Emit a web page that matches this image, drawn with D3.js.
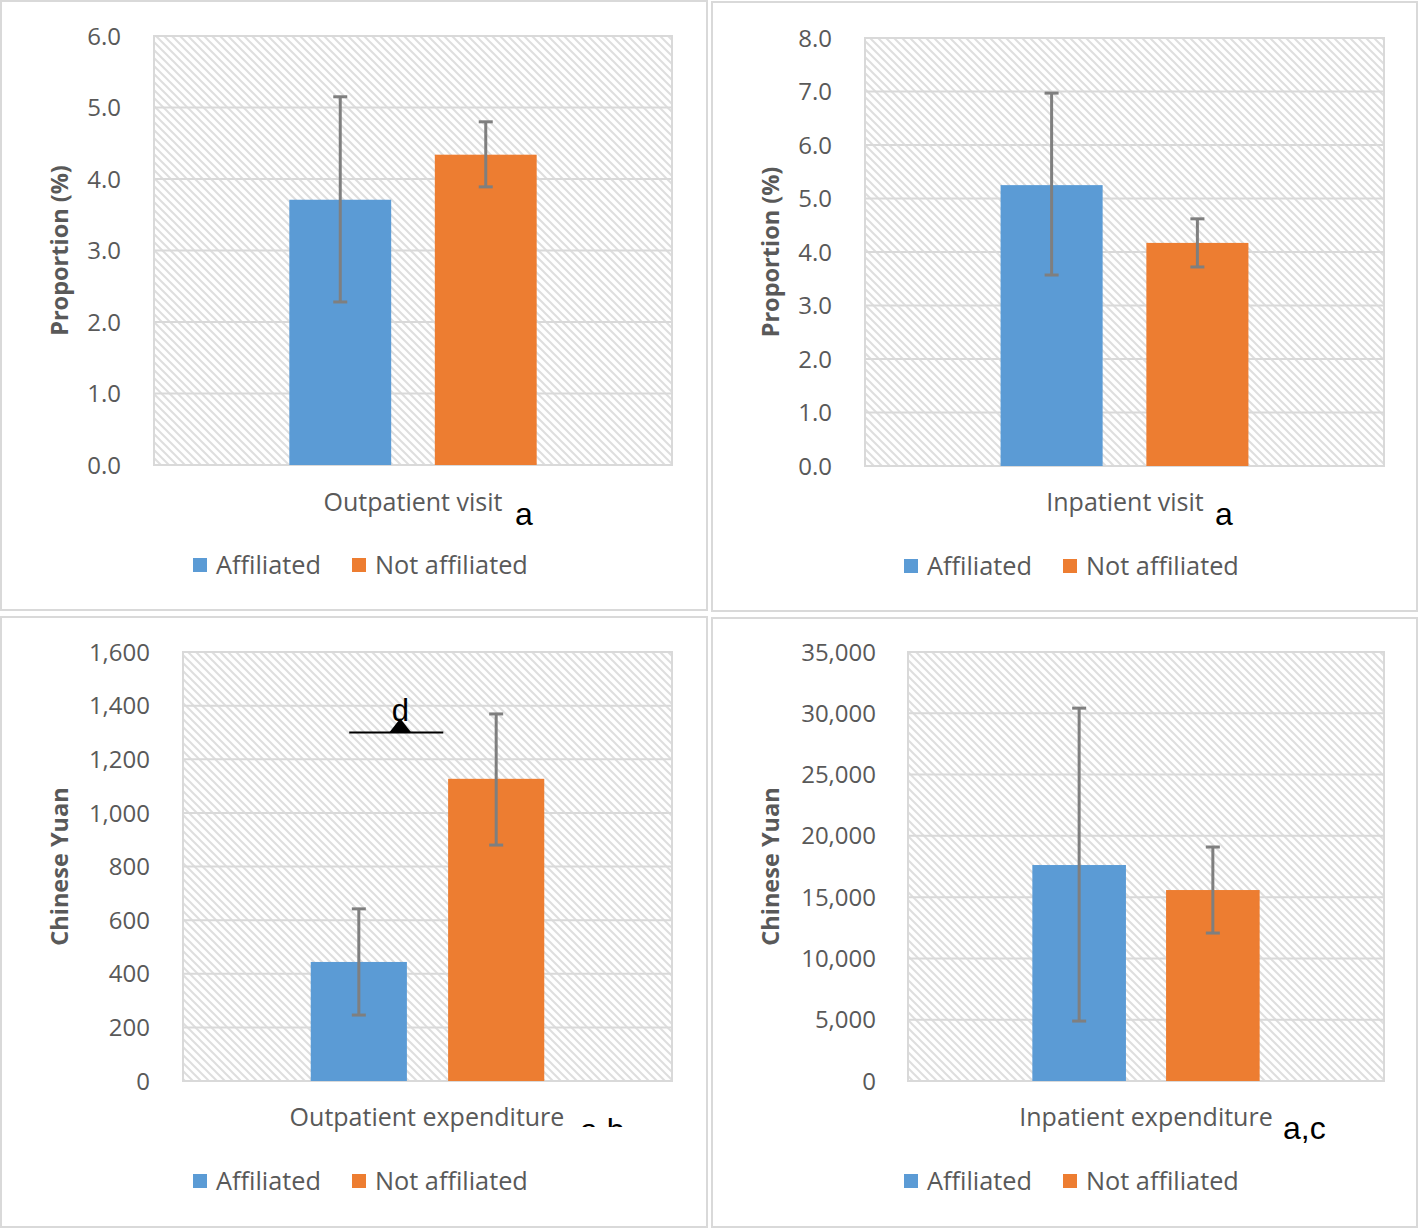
<!DOCTYPE html>
<html><head><meta charset="utf-8">
<script src="https://cdn.jsdelivr.net/npm/d3@7"></script>
<style>body{margin:0;background:#fff}svg{display:block}</style>
</head><body>
<script>
// ---------- data ----------
const groups = ["Affiliated", "Not affiliated"];
const colors = ["#5b9bd5", "#ed7d31"];

const outpatientVisit = [3.71, 4.34];
const outpatientVisitLow = [2.28, 3.89];
const outpatientVisitHigh = [5.15, 4.80];

const inpatientVisit = [5.25, 4.17];
const inpatientVisitLow = [3.57, 3.72];
const inpatientVisitHigh = [6.97, 4.62];

const outpatientExp = [444, 1127];
const outpatientExpLow = [246, 880];
const outpatientExpHigh = [642, 1369];

const inpatientExp = [17620, 15580];
const inpatientExpLow = [4890, 12070];
const inpatientExpHigh = [30420, 19090];

const visitTicksA = [0, 1, 2, 3, 4, 5, 6];
const visitTicksB = [0, 1, 2, 3, 4, 5, 6, 7, 8];
const outExpTicks = [0, 200, 400, 600, 800, 1000, 1200, 1400, 1600];
const inExpTicks = [0, 5000, 10000, 15000, 20000, 25000, 30000, 35000];

const titles = ["Outpatient visit", "Inpatient visit", "Outpatient expenditure", "Inpatient expenditure"];
const notes = ["a", "a", "a,b", "a,c"];
const yTitles = ["Proportion (%)", "Proportion (%)", "Chinese Yuan", "Chinese Yuan"];

// ---------- layout ----------
const W = 1420, H = 1229;
const svg = d3.select("body").append("svg").attr("width", W).attr("height", H);
const defs = svg.append("defs");
const pat = defs.append("pattern").attr("id", "hatch").attr("patternUnits", "userSpaceOnUse")
  .attr("width", 8).attr("height", 8);
pat.append("rect").attr("width", 8).attr("height", 8).attr("fill", "#fff");
pat.append("path").attr("d", "M-2,-2L10,10M-2,6L2,10M6,-2L10,2")
  .attr("stroke", "#dedede").attr("stroke-width", 2);

const FONT = "'Open Sans', sans-serif";
const GRAY = "#595959";

const panels = [
  {box:[1,1,707,610], plot:[154,36,672,465], vals:outpatientVisit, lo:outpatientVisitLow, hi:outpatientVisitHigh,
   ticks:visitTicksA, fmt:d3.format(".1f"), tickX:121, titleX:60, labelY:502, titleCx:413, noteX:515, noteY:525, legY:565, legX:[193,352]},
  {box:[712,2,1417,611], plot:[865,38,1384,466], vals:inpatientVisit, lo:inpatientVisitLow, hi:inpatientVisitHigh,
   ticks:visitTicksB, fmt:d3.format(".1f"), tickX:832, titleX:771, labelY:502, titleCx:1125, noteX:1215, noteY:525, legY:566, legX:[904,1063]},
  {box:[1,617,707,1227], plot:[183,652,672,1081], vals:outpatientExp, lo:outpatientExpLow, hi:outpatientExpHigh,
   ticks:outExpTicks, fmt:d3.format(","), tickX:150, titleX:60, labelY:1117, titleCx:427, noteX:580, noteY:1141, legY:1181, legX:[193,352], clipNote:1127},
  {box:[712,618,1417,1227], plot:[908,652,1384,1081], vals:inpatientExp, lo:inpatientExpLow, hi:inpatientExpHigh,
   ticks:inExpTicks, fmt:d3.format(","), tickX:876, titleX:771, labelY:1117, titleCx:1146, noteX:1283, noteY:1139, legY:1181, legX:[904,1063]}
];

panels.forEach((p, i) => {
  const g = svg.append("g");
  const [bx0, by0, bx1, by1] = p.box;
  g.append("rect").attr("x", bx0).attr("y", by0).attr("width", bx1 - bx0).attr("height", by1 - by0)
    .attr("fill", "#fff").attr("stroke", "#d9d9d9").attr("stroke-width", 2);
  const [L, T, R, B] = p.plot;
  const y = d3.scaleLinear().domain([p.ticks[0], p.ticks[p.ticks.length - 1]]).range([B, T]);
  const x = d3.scaleBand().domain(groups).range([L, R]).paddingInner(0.3).paddingOuter(0.93);

  g.append("rect").attr("x", L).attr("y", T).attr("width", R - L).attr("height", B - T)
    .attr("fill", "url(#hatch)");
  // gridlines
  g.append("g").selectAll("line").data(p.ticks).join("line")
    .attr("x1", L).attr("x2", R).attr("y1", d => y(d)).attr("y2", d => y(d))
    .attr("stroke", "#d9d9d9").attr("stroke-width", 2);
  g.append("rect").attr("x", L).attr("y", T).attr("width", R - L).attr("height", B - T)
    .attr("fill", "none").attr("stroke", "#d9d9d9").attr("stroke-width", 2);
  // tick labels
  g.append("g").selectAll("text").data(p.ticks).join("text")
    .attr("x", p.tickX).attr("y", d => y(d)).attr("dy", "0.36em").attr("text-anchor", "end")
    .attr("font-family", FONT).attr("font-size", 24).attr("fill", GRAY).text(d => p.fmt(d));
  // y title
  g.append("text").attr("transform", `translate(${p.titleX + 8},${(T + B) / 2}) rotate(-90)`)
    .attr("text-anchor", "middle").attr("font-family", FONT).attr("font-size", 23.5)
    .attr("font-weight", "bold").attr("fill", GRAY).text(yTitles[i]);
  // bars
  g.append("g").selectAll("rect").data(groups).join("rect")
    .attr("x", d => x(d)).attr("width", x.bandwidth())
    .attr("y", (d, j) => y(p.vals[j])).attr("height", (d, j) => B - y(p.vals[j]))
    .attr("fill", (d, j) => colors[j]);
  // error bars
  const eb = g.append("g").attr("stroke", "#7f7f7f").attr("stroke-width", 3);
  groups.forEach((d, j) => {
    const cx = x(d) + x.bandwidth() / 2;
    eb.append("line").attr("x1", cx).attr("x2", cx).attr("y1", y(p.hi[j])).attr("y2", y(p.lo[j]));
    eb.append("line").attr("x1", cx - 7).attr("x2", cx + 7).attr("y1", y(p.hi[j])).attr("y2", y(p.hi[j]));
    eb.append("line").attr("x1", cx - 7).attr("x2", cx + 7).attr("y1", y(p.lo[j])).attr("y2", y(p.lo[j]));
  });
  // category label
  g.append("text").attr("x", p.titleCx).attr("y", p.labelY).attr("dy", "0.36em").attr("text-anchor", "middle")
    .attr("font-family", FONT).attr("font-size", 25).attr("fill", GRAY).text(titles[i]);
  // note
  const note = g.append("text").attr("x", p.noteX).attr("y", p.noteY)
    .attr("font-family", "'Liberation Sans', Arial, sans-serif").attr("font-size", 32).attr("fill", "#000").text(notes[i]);
  if (p.clipNote) {
    defs.append("clipPath").attr("id", "clipnote" + i).append("rect")
      .attr("x", p.noteX - 5).attr("y", p.clipNote - 40).attr("width", 80).attr("height", 40);
    note.attr("clip-path", `url(#clipnote${i})`);
  }
  // legend
  groups.forEach((d, j) => {
    g.append("rect").attr("x", p.legX[j]).attr("y", p.legY - 7).attr("width", 14).attr("height", 14).attr("fill", colors[j]);
    g.append("text").attr("x", p.legX[j] + 23).attr("y", p.legY).attr("dy", "0.36em")
      .attr("font-family", FONT).attr("font-size", 25.3).attr("fill", GRAY).text(d);
  });
  // significance marker (outpatient expenditure)
  if (i === 2) {
    const ym = y(1300);
    const x0 = x(groups[0]) + x.bandwidth() * 0.4, x1 = x(groups[1]) - x.bandwidth() * 0.05;
    const mx = (x0 + x1) / 2 + 4;
    g.append("line").attr("x1", x0).attr("x2", x1).attr("y1", ym).attr("y2", ym).attr("stroke", "#000").attr("stroke-width", 2);
    g.append("path").attr("d", `M${mx - 11},${ym}L${mx},${ym - 14}L${mx + 11},${ym}Z`).attr("fill", "#000");
    g.append("text").attr("x", mx).attr("y", ym - 11).attr("text-anchor", "middle")
      .attr("font-family", "'Liberation Sans', Arial, sans-serif").attr("font-size", 31).attr("fill", "#000").text("d");
  }
});
</script>
</body></html>
